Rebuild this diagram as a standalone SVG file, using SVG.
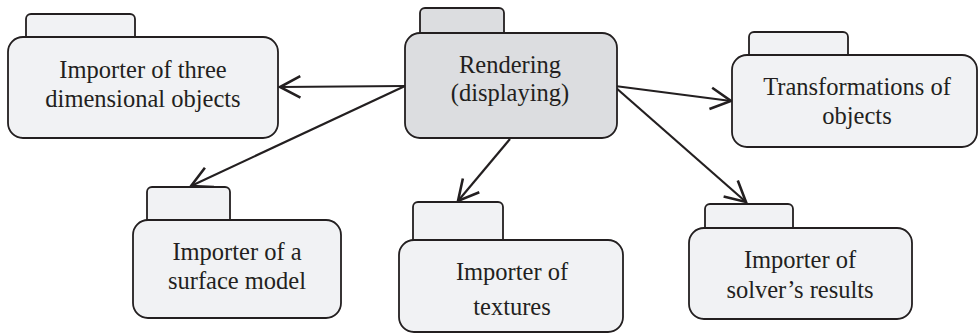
<svg xmlns="http://www.w3.org/2000/svg" width="979" height="335" viewBox="0 0 979 335">
<style>
.box{fill:#f1f2f4;stroke:#231f20;stroke-width:1.8}
.main{fill:#dcdde0;stroke:#231f20;stroke-width:1.8}
.lbl{font-family:"Liberation Serif","DejaVu Serif",serif;font-size:24.5px;fill:#231f20;text-anchor:middle}
.con{stroke:#231f20;stroke-width:2.2;fill:none;marker-end:url(#arr)}
</style>
<defs>
<marker id="arr" markerUnits="userSpaceOnUse" markerWidth="30" markerHeight="30" viewBox="-24 -14 28 28" refX="0" refY="0" orient="auto">
<path d="M-19,-10 L0,0 L-19,10" fill="none" stroke="#231f20" stroke-width="2.4" stroke-linejoin="miter"/>
</marker>
</defs>
<rect width="979" height="335" fill="#ffffff"/>
<g id="connectors">
<line class="con" x1="405" y1="86" x2="280" y2="87"/>
<line class="con" x1="405" y1="86" x2="191" y2="186"/>
<line class="con" x1="510" y1="139" x2="458" y2="201"/>
<line class="con" x1="615" y1="86" x2="731" y2="101"/>
<line class="con" x1="615" y1="87" x2="746" y2="202"/>
</g>
<g id="node-importer-3d">
<rect class="box" x="26" y="14" width="109" height="30" rx="5"/>
<rect class="box" x="8" y="37" width="270" height="101" rx="15"/>
<text class="lbl" x="143" y="78">Importer of three</text>
<text class="lbl" x="143" y="107">dimensional objects</text>
</g>
<g id="node-rendering">
<rect class="main" x="420" y="8" width="84" height="32" rx="5"/>
<rect class="main" x="405" y="33" width="212" height="105" rx="15"/>
<text class="lbl" x="510" y="73">Rendering</text>
<text class="lbl" x="510" y="101">(displaying)</text>
</g>
<g id="node-transformations">
<rect class="box" x="749" y="32" width="99" height="30" rx="5"/>
<rect class="box" x="732" y="55" width="245" height="92" rx="15"/>
<text class="lbl" x="857" y="95">Transformations of</text>
<text class="lbl" x="857" y="124">objects</text>
</g>
<g id="node-surface">
<rect class="box" x="147" y="187" width="83" height="40" rx="5"/>
<rect class="box" x="133" y="220" width="208" height="98" rx="15"/>
<text class="lbl" x="237" y="260">Importer of a</text>
<text class="lbl" x="237" y="289">surface model</text>
</g>
<g id="node-textures">
<rect class="box" x="413" y="202" width="90" height="45" rx="5"/>
<rect class="box" x="399" y="240" width="224" height="92" rx="15"/>
<text class="lbl" x="512" y="280">Importer of</text>
<text class="lbl" x="512" y="315">textures</text>
</g>
<g id="node-solver">
<rect class="box" x="705" y="204" width="88" height="32" rx="5"/>
<rect class="box" x="689" y="228" width="223" height="91" rx="15"/>
<text class="lbl" x="800" y="268">Importer of</text>
<text class="lbl" x="800" y="298">solver’s results</text>
</g>
</svg>
